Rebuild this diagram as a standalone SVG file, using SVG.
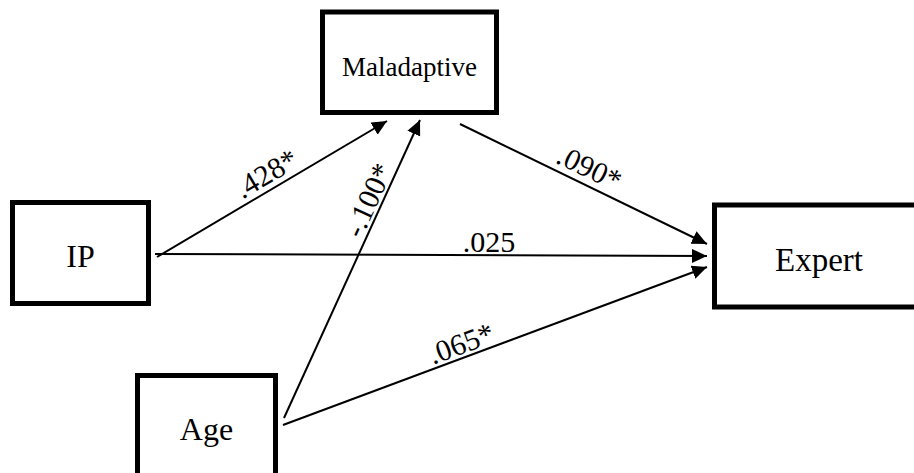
<svg xmlns="http://www.w3.org/2000/svg" width="914" height="473" viewBox="0 0 914 473">
  <defs>
    <marker id="arrow" markerUnits="userSpaceOnUse" markerWidth="16" markerHeight="15" refX="15" refY="7" orient="auto">
      <path d="M0,0 L15,7 L0,14 Z" fill="#000"/>
    </marker>
  </defs>
  <style>
    .box { fill: #fff; stroke: #000; stroke-width: 5; }
    .edge { stroke: #000; stroke-width: 2; fill: none; marker-end: url(#arrow); }
    text { font-family: 'Liberation Serif', 'DejaVu Serif', serif; fill: #000; text-anchor: middle; }
    .node-label { font-size: 32px; }
    .edge-label { font-size: 30px; }
  </style>
  <rect width="914" height="473" fill="#fff"/>

  <g id="connectors">
    <line class="edge" x1="157" y1="257" x2="387" y2="121"/>
    <line class="edge" x1="284" y1="418" x2="420" y2="120"/>
    <line class="edge" x1="460" y1="124" x2="707" y2="244"/>
    <line class="edge" x1="155" y1="254" x2="707" y2="256"/>
    <line class="edge" x1="283" y1="425" x2="707" y2="267"/>
    <text class="edge-label" transform="translate(274.5,187.5) rotate(-30.6)" y="-6">.428*</text>
    <text class="edge-label" transform="translate(381,206) rotate(-65.5)" y="-4">-.100*</text>
    <text class="edge-label" transform="translate(582,183.3) rotate(25.7)" y="-7">.090*</text>
    <text class="edge-label" x="489" y="252">.025</text>
    <text class="edge-label" transform="translate(466.1,356.8) rotate(-20.4)" y="-4">.065*</text>
  </g>

  <g id="node-maladaptive">
    <rect class="box" x="322.5" y="12" width="174" height="100.5"/>
    <text class="node-label" x="409.5" y="76" style="font-size:27px">Maladaptive</text>
  </g>
  <g id="node-ip">
    <rect class="box" x="12.5" y="202.5" width="136" height="101"/>
    <text class="node-label" x="80.5" y="267">IP</text>
  </g>
  <g id="node-age">
    <rect class="box" x="137.5" y="375.5" width="138" height="120"/>
    <text class="node-label" x="206.5" y="440">Age</text>
  </g>
  <g id="node-expert">
    <rect class="box" x="714.5" y="205" width="220" height="102"/>
    <text class="node-label" x="819" y="271" style="font-size:33px">Expert</text>
  </g>
</svg>
